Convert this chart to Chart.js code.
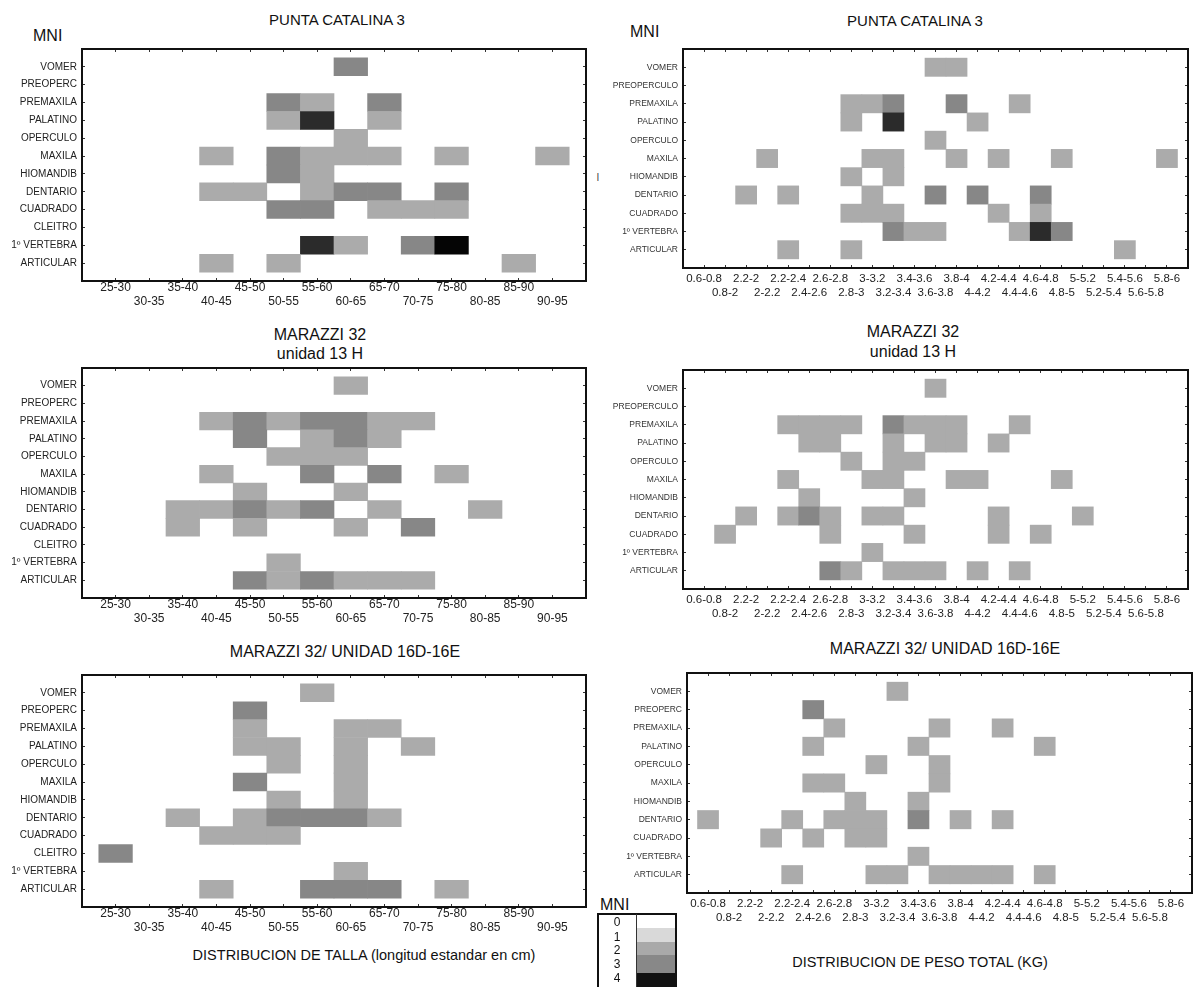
<!DOCTYPE html>
<html>
<head>
<meta charset="utf-8">
<script src="https://cdn.jsdelivr.net/npm/chart.js@4.4.0/dist/chart.umd.min.js"></script>
<style>
  body { margin: 0; width: 1197px; height: 987px; position: relative; overflow: hidden; background: #fff;
         font-family: "Liberation Sans", Arial, sans-serif; color: #111; }
  canvas { position: absolute; }
  .t { position: absolute; white-space: nowrap; transform: translate(-50%, -50%); }
  .l { position: absolute; white-space: nowrap; }
  .band { position: absolute; left: 636px; width: 39px; }
</style>
</head>
<body>

<div class="l" style="left:33px;top:27px;font-size:16px">MNI</div>
<div class="t" style="left:337px;top:19px;font-size:15px">PUNTA CATALINA 3</div>
<div class="l" style="left:630px;top:23px;font-size:16px">MNI</div>
<div class="t" style="left:915px;top:20px;font-size:15px">PUNTA CATALINA 3</div>
<div class="t" style="left:598px;top:177px;font-size:10px;color:#444">I</div>

<div class="t" style="left:320px;top:335px;font-size:16px">MARAZZI 32</div>
<div class="t" style="left:320px;top:354px;font-size:16px">unidad 13 H</div>
<div class="t" style="left:913px;top:332px;font-size:16px">MARAZZI 32</div>
<div class="t" style="left:913px;top:352px;font-size:16px">unidad 13 H</div>

<div class="t" style="left:345px;top:652px;font-size:16px">MARAZZI 32/ UNIDAD 16D-16E</div>
<div class="t" style="left:945px;top:649px;font-size:16px">MARAZZI 32/ UNIDAD 16D-16E</div>

<div class="t" style="left:364px;top:955px;font-size:14.5px">DISTRIBUCION DE TALLA (longitud estandar en cm)</div>
<div class="t" style="left:920px;top:962px;font-size:14.5px">DISTRIBUCION DE PESO TOTAL (KG)</div>

<div id="legend"></div>

<script>
// categories
const tallaCats = ['25-30', '30-35', '35-40', '40-45', '45-50', '50-55', '55-60', '60-65', '65-70',
  '70-75', '75-80', '80-85', '85-90', '90-95'];
const pesoCats = ['0.6-0.8', '0.8-2', '2.2-2', '2-2.2', '2.2-2.4', '2.4-2.6', '2.6-2.8', '2.8-3', '3-3.2',
  '3.2-3.4', '3.4-3.6', '3.6-3.8', '3.8-4', '4-4.2', '4.2-4.4', '4.4-4.6', '4.6-4.8', '4.8-5', '5-5.2',
  '5.2-5.4', '5.4-5.6', '5.6-5.8', '5.8-6'];

const tallaBones = ['VOMER', 'PREOPERC', 'PREMAXILA', 'PALATINO', 'OPERCULO', 'MAXILA', 'HIOMANDIB',
  'DENTARIO', 'CUADRADO', 'CLEITRO', '1º VERTEBRA', 'ARTICULAR'];
const pesoBones = ['VOMER', 'PREOPERCULO', 'PREMAXILA', 'PALATINO', 'OPERCULO', 'MAXILA', 'HIOMANDIB',
  'DENTARIO', 'CUADRADO', '1º VERTEBRA', 'ARTICULAR'];
const pesoBones16 = ['VOMER', 'PREOPERC', 'PREMAXILA', 'PALATINO', 'OPERCULO', 'MAXILA', 'HIOMANDIB',
  'DENTARIO', 'CUADRADO', '1º VERTEBRA', 'ARTICULAR'];

// MNI per bone (rows) and size class (columns)
const tallaPuntaCatalina = [
  [0,0,0,0,0,0,0,2,0,0,0,0,0,0],
  [0,0,0,0,0,0,0,0,0,0,0,0,0,0],
  [0,0,0,0,0,2,1,0,2,0,0,0,0,0],
  [0,0,0,0,0,1,3,0,1,0,0,0,0,0],
  [0,0,0,0,0,0,0,1,0,0,0,0,0,0],
  [0,0,0,1,0,2,1,1,1,0,1,0,0,1],
  [0,0,0,0,0,2,1,0,0,0,0,0,0,0],
  [0,0,0,1,1,0,1,2,2,0,2,0,0,0],
  [0,0,0,0,0,2,2,0,1,1,1,0,0,0],
  [0,0,0,0,0,0,0,0,0,0,0,0,0,0],
  [0,0,0,0,0,0,3,1,0,2,4,0,0,0],
  [0,0,0,1,0,1,0,0,0,0,0,0,1,0]
];
const talla13H = [
  [0,0,0,0,0,0,0,1,0,0,0,0,0,0],
  [0,0,0,0,0,0,0,0,0,0,0,0,0,0],
  [0,0,0,1,2,1,2,2,1,1,0,0,0,0],
  [0,0,0,0,2,0,1,2,1,0,0,0,0,0],
  [0,0,0,0,0,1,1,1,0,0,0,0,0,0],
  [0,0,0,1,0,0,2,0,2,0,1,0,0,0],
  [0,0,0,0,1,0,0,1,0,0,0,0,0,0],
  [0,0,1,1,2,1,2,0,1,0,0,1,0,0],
  [0,0,1,0,1,0,0,1,0,2,0,0,0,0],
  [0,0,0,0,0,0,0,0,0,0,0,0,0,0],
  [0,0,0,0,0,1,0,0,0,0,0,0,0,0],
  [0,0,0,0,2,1,2,1,1,1,0,0,0,0]
];
const talla16D = [
  [0,0,0,0,0,0,1,0,0,0,0,0,0,0],
  [0,0,0,0,2,0,0,0,0,0,0,0,0,0],
  [0,0,0,0,1,0,0,1,1,0,0,0,0,0],
  [0,0,0,0,1,1,0,1,0,1,0,0,0,0],
  [0,0,0,0,0,1,0,1,0,0,0,0,0,0],
  [0,0,0,0,2,0,0,1,0,0,0,0,0,0],
  [0,0,0,0,0,1,0,1,0,0,0,0,0,0],
  [0,0,1,0,1,2,2,2,1,0,0,0,0,0],
  [0,0,0,1,1,1,0,0,0,0,0,0,0,0],
  [2,0,0,0,0,0,0,0,0,0,0,0,0,0],
  [0,0,0,0,0,0,0,1,0,0,0,0,0,0],
  [0,0,0,1,0,0,2,2,2,0,1,0,0,0]
];
const pesoPuntaCatalina = [
  [0,0,0,0,0,0,0,0,0,0,0,1,1,0,0,0,0,0,0,0,0,0,0],
  [0,0,0,0,0,0,0,0,0,0,0,0,0,0,0,0,0,0,0,0,0,0,0],
  [0,0,0,0,0,0,0,1,1,2,0,0,2,0,0,1,0,0,0,0,0,0,0],
  [0,0,0,0,0,0,0,1,0,3,0,0,0,1,0,0,0,0,0,0,0,0,0],
  [0,0,0,0,0,0,0,0,0,0,0,1,0,0,0,0,0,0,0,0,0,0,0],
  [0,0,0,1,0,0,0,0,1,1,0,0,1,0,1,0,0,1,0,0,0,0,1],
  [0,0,0,0,0,0,0,1,0,1,0,0,0,0,0,0,0,0,0,0,0,0,0],
  [0,0,1,0,1,0,0,0,1,0,0,2,0,2,0,0,2,0,0,0,0,0,0],
  [0,0,0,0,0,0,0,1,1,1,0,0,0,0,1,0,1,0,0,0,0,0,0],
  [0,0,0,0,0,0,0,0,0,2,1,1,0,0,0,1,3,2,0,0,0,0,0],
  [0,0,0,0,1,0,0,1,0,0,0,0,0,0,0,0,0,0,0,0,1,0,0]
];
const peso13H = [
  [0,0,0,0,0,0,0,0,0,0,0,1,0,0,0,0,0,0,0,0,0,0,0],
  [0,0,0,0,0,0,0,0,0,0,0,0,0,0,0,0,0,0,0,0,0,0,0],
  [0,0,0,0,1,1,1,1,0,2,1,1,1,0,0,1,0,0,0,0,0,0,0],
  [0,0,0,0,0,1,1,0,0,1,0,1,1,0,1,0,0,0,0,0,0,0,0],
  [0,0,0,0,0,0,0,1,0,1,1,0,0,0,0,0,0,0,0,0,0,0,0],
  [0,0,0,0,1,0,0,0,1,1,0,0,1,1,0,0,0,1,0,0,0,0,0],
  [0,0,0,0,0,1,0,0,0,0,1,0,0,0,0,0,0,0,0,0,0,0,0],
  [0,0,1,0,1,2,1,0,1,1,0,0,0,0,1,0,0,0,1,0,0,0,0],
  [0,1,0,0,0,0,1,0,0,0,1,0,0,0,1,0,1,0,0,0,0,0,0],
  [0,0,0,0,0,0,0,0,1,0,0,0,0,0,0,0,0,0,0,0,0,0,0],
  [0,0,0,0,0,0,2,1,0,1,1,1,0,1,0,1,0,0,0,0,0,0,0]
];
const peso16D = [
  [0,0,0,0,0,0,0,0,0,1,0,0,0,0,0,0,0,0,0,0,0,0,0],
  [0,0,0,0,0,2,0,0,0,0,0,0,0,0,0,0,0,0,0,0,0,0,0],
  [0,0,0,0,0,0,1,0,0,0,0,1,0,0,1,0,0,0,0,0,0,0,0],
  [0,0,0,0,0,1,0,0,0,0,1,0,0,0,0,0,1,0,0,0,0,0,0],
  [0,0,0,0,0,0,0,0,1,0,0,1,0,0,0,0,0,0,0,0,0,0,0],
  [0,0,0,0,0,1,1,0,0,0,0,1,0,0,0,0,0,0,0,0,0,0,0],
  [0,0,0,0,0,0,0,1,0,0,1,0,0,0,0,0,0,0,0,0,0,0,0],
  [1,0,0,0,1,0,1,1,1,0,2,0,1,0,1,0,0,0,0,0,0,0,0],
  [0,0,0,1,0,1,0,1,1,0,0,0,0,0,0,0,0,0,0,0,0,0,0],
  [0,0,0,0,0,0,0,0,0,0,1,0,0,0,0,0,0,0,0,0,0,0,0],
  [0,0,0,0,1,0,0,0,1,1,0,1,1,1,1,0,1,0,0,0,0,0,0]
];

// legend levels
const mniLevels = [0, 1, 2, 3, 4];
const legendShades = ['#ffffff', '#d9d9d9', '#a9a9a9', '#888888', '#111111'];

const shades = ['#ffffff', '#ababab', '#878787', '#2b2b2b', '#050505'];
const FONT = '"Liberation Sans", Arial, sans-serif';

function cells(matrix) {
  let out = [];
  matrix.forEach((row, r) => {
    row.forEach((v, c) => {
      if (v > 0) out.push({ x: c, y: [r - 0.5, r + 0.5], v: v });
    });
  });
  return out;
}

// frame box of every panel on the page
let panels = [
  { cats: tallaCats, bones: tallaBones, matrix: tallaPuntaCatalina, L: 82, T: 49, R: 586, B: 281, canvasLeft: 0 },
  { cats: pesoCats, bones: pesoBones, matrix: pesoPuntaCatalina, L: 683, T: 49, R: 1188, B: 268, canvasLeft: 600 },
  { cats: tallaCats, bones: tallaBones, matrix: talla13H, L: 82, T: 368, R: 586, B: 598, canvasLeft: 0 },
  { cats: pesoCats, bones: pesoBones, matrix: peso13H, L: 683, T: 370, R: 1188, B: 589, canvasLeft: 600 },
  { cats: tallaCats, bones: tallaBones, matrix: talla16D, L: 82, T: 675, R: 586, B: 907, canvasLeft: 0 },
  { cats: pesoCats, bones: pesoBones16, matrix: peso16D, L: 687, T: 673, R: 1192, B: 893, canvasLeft: 600 }
];

const padTop = 4, padRight = 4, xAxisH = 34;

function drawPanel(p) {
  let isPeso = p.cats === pesoCats;
  let axisW = p.L - p.canvasLeft;
  let cv = document.createElement('canvas');
  cv.width = axisW + (p.R - p.L) + padRight;
  cv.height = padTop + (p.B - p.T) + xAxisH;
  cv.style.left = p.canvasLeft + 'px';
  cv.style.top = (p.T - padTop) + 'px';
  document.body.appendChild(cv);

  let nCols = p.cats.length;
  let nRows = p.bones.length;
  let edge = { display: true, color: '#111', width: 2 };
  let marks = { display: true, drawOnChartArea: false, drawTicks: true, tickLength: -3, color: '#333', offset: false };
  let noPad = s => { s.paddingLeft = 0; s.paddingRight = 0; s.paddingTop = 0; s.paddingBottom = 0; };

  new Chart(cv, {
    type: 'bar',
    data: {
      datasets: [{
        data: cells(p.matrix),
        xAxisID: 'x',
        yAxisID: 'y',
        backgroundColor: ctx => shades[ctx.raw ? ctx.raw.v : 0],
        borderWidth: 0,
        barPercentage: 1,
        categoryPercentage: 1
      }]
    },
    options: {
      responsive: false,
      animation: false,
      events: [],
      layout: { padding: { top: padTop, right: padRight, left: 0, bottom: 0 } },
      plugins: { legend: { display: false }, tooltip: { enabled: false } },
      scales: {
        x: {
          type: 'linear', position: 'bottom', min: -1, max: nCols, offset: false,
          grid: marks, border: edge,
          ticks: {
            stepSize: 1, autoSkip: false, maxRotation: 0, minRotation: 0,
            padding: isPeso ? 7 : 3, color: '#222',
            font: { family: FONT, size: isPeso ? 11.5 : 12, lineHeight: '14px' },
            callback: v => {
              let label = p.cats[v];
              if (label === undefined) return '';
              return v % 2 ? ['', label] : [label, ''];
            }
          },
          afterFit: s => { s.height = xAxisH; noPad(s); }
        },
        x2: {
          type: 'linear', position: 'top', min: -1, max: nCols, offset: false,
          grid: marks, border: edge,
          ticks: { display: false, stepSize: 1 },
          afterFit: s => { s.height = 0; noPad(s); }
        },
        y: {
          type: 'linear', position: 'left', reverse: true, min: -1, max: nRows,
          grid: marks, border: edge,
          ticks: {
            stepSize: 1, autoSkip: false, padding: 8, color: isPeso ? '#333' : '#222',
            font: { family: FONT, size: isPeso ? 8.5 : 10 },
            callback: v => p.bones[v] || ''
          },
          afterFit: s => { s.width = axisW; noPad(s); }
        },
        y2: {
          type: 'linear', position: 'right', reverse: true, min: -1, max: nRows,
          grid: marks, border: edge,
          ticks: { display: false, stepSize: 1 },
          afterFit: s => { s.width = 0; noPad(s); }
        }
      }
    }
  });
}

panels.forEach(drawPanel);

// MNI key, bottom middle
let legend = document.getElementById('legend');
let html = '<div class="l" style="left:600px;top:896px;font-size:16px">MNI</div>';
html += '<div style="position:absolute;left:597px;top:913px;width:80px;height:76px;border:2px solid #111;box-sizing:border-box;z-index:2"></div>';
html += '<div style="position:absolute;left:636px;top:914px;width:1px;height:73px;background:#333;z-index:3"></div>';
let bandTops = [915, 928, 942, 955, 973];
let bandBottoms = [928, 942, 955, 973, 987];
let labelYs = [922, 937, 950, 964, 978];
mniLevels.forEach((lv, i) => {
  html += '<div class="band" style="top:' + bandTops[i] + 'px;height:' + (bandBottoms[i] - bandTops[i]) +
    'px;background:' + legendShades[i] + ';z-index:1"></div>';
  html += '<div class="t" style="left:617px;top:' + labelYs[i] + 'px;font-size:12px;z-index:3">' + lv + '</div>';
});
legend.innerHTML = html;
</script>
</body>
</html>
